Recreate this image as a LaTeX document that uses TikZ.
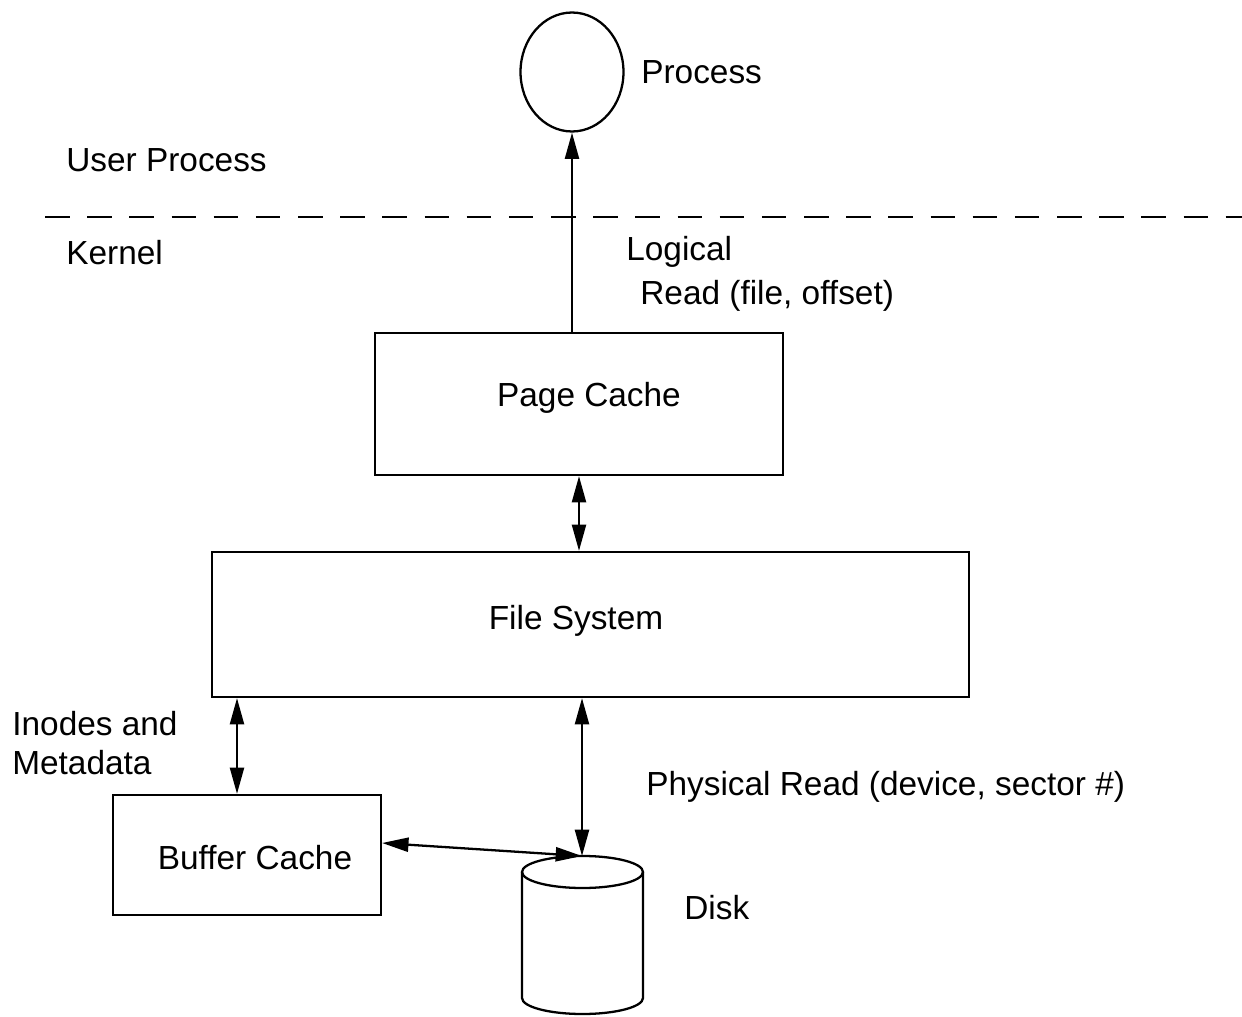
\documentclass[tikz,border=0pt]{standalone}
\usepackage{fontspec}
\setmainfont{Liberation Sans}
\usetikzlibrary{arrows.meta,shapes.geometric}

\begin{document}
\begin{tikzpicture}[x=0.02cm, y=0.02cm,
    every node/.style={font=\fontsize{19}{23}\selectfont},
    box/.style={draw, line width=1.3pt, inner sep=0pt},
    txt/.style={anchor=west, inner sep=0pt},
    link/.style={line width=1.3pt, -{Triangle[length=15pt,width=8pt]}},
    biglink/.style={line width=1.3pt, {Triangle[length=15pt,width=8pt]}-{Triangle[length=15pt,width=8pt]}}]
    \useasboundingbox (0,0) rectangle (1242,-1017);

    % Process
    \node[box, ellipse, minimum width=2.06cm, minimum height=2.38cm] (proc) at (572,-72) {};
    \node[txt] (procname) at (641,-72) {Process};

    % User / Kernel
    \node[txt] (user) at (66,-160) {User Process};
    \draw[line width=1pt, dash pattern=on 14pt off 10pt] (45,-217) -- (1242,-217);
    \node[txt] (kernel) at (66,-253) {Kernel};

    % Caches
    \node[box, minimum width=8.16cm, minimum height=2.84cm] (pc) at (579,-404) {};
    \node (pcname) at (589,-398) {Page Cache};
    \node[box, minimum width=15.14cm, minimum height=2.9cm] (fs) at (590.5,-624.5) {};
    \node (fsname) at (576,-621) {File System};
    \node[box, minimum width=5.36cm, minimum height=2.4cm] (bc) at (247,-855) {};
    \node (bcname) at (255,-858) {Buffer Cache};

    % Disk
    \coordinate (disktop) at (582,-856);
    \draw[line width=1.3pt] (582.5,-872) ellipse (60.5 and 16);
    \draw[line width=1.3pt] (522,-872) -- (522,-998) arc (180:360:60.5 and 16) -- (643,-872);
    \node[txt] (diskname) at (684,-908) {Disk};

    % Arrows
    \draw[link] (pc.north -| proc.south) -- (proc.south);
    \node[txt] (logical) at (626,-252) {Logical};
    \node[txt] (readfile) at (640,-296) {Read (file, offset)};
    \draw[biglink] (pc.south) -- (pc.south |- fs.north);
    \draw[biglink] ([xshift=-0.2cm]bc.north |- fs.south) -- ([xshift=-0.2cm]bc.north);
    \node[txt] (inodes) at (12,-724) {Inodes and};
    \node[txt] (meta) at (12,-763) {Metadata};
    \draw[biglink] (disktop |- fs.south) -- (disktop);
    \node[txt] (phys) at (646,-787) {Physical Read (device, sector \#)};
    \draw[biglink] ([yshift=0.24cm]bc.east) -- (disktop);
\end{tikzpicture}
\end{document}
